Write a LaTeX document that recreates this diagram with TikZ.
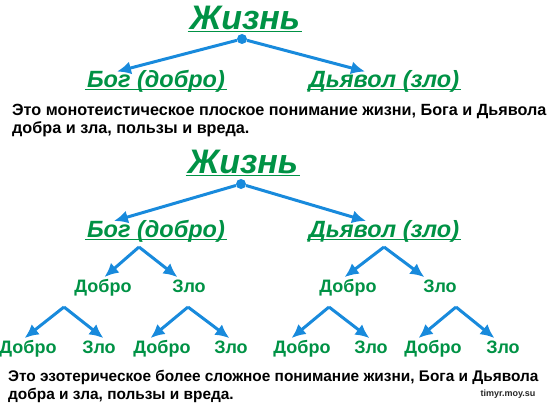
\documentclass[tikz,border=0pt]{standalone}
\usepackage{fontspec}
\setmainfont{Liberation Sans}
\usetikzlibrary{arrows.meta,calc}
\definecolor{lifegreen}{RGB}{0,146,69}
\definecolor{arrowblue}{RGB}{24,138,220}
\tikzstyle{title} = [font=\fontsize{34}{34}\selectfont\bfseries\itshape, text=lifegreen, text height=24.3pt, text depth=0pt, inner sep=2pt]
\tikzstyle{branch} = [font=\fontsize{23.5}{23.5}\selectfont\bfseries\itshape, text=lifegreen, text height=16.5pt, text depth=0pt, inner sep=2pt]
\tikzstyle{leaf} = [font=\fontsize{18}{18}\selectfont\bfseries, text=lifegreen, text height=12.9pt, text depth=0pt, inner sep=1pt]
\tikzstyle{note} = [font=\fontsize{16.2}{18}\selectfont\bfseries, align=left, anchor=west, inner sep=0pt]
\tikzstyle{uline} = [draw=lifegreen, line width=1pt]
\tikzstyle{dot} = [circle, fill=arrowblue, inner sep=0pt, minimum size=10pt]
\tikzstyle{arr} = [draw=arrowblue, line width=3pt, -{Latex[length=14pt,width=13pt]}, shorten >=2pt]

\begin{document}
\begin{tikzpicture}[x=1pt, y=-1pt]
    \useasboundingbox (0,0) rectangle (557,404);
    % first tree
    \node[title] (life1) at (245,17.5) {Жизнь};
    \draw[uline] (life1.south west) -- (life1.south east);% underline
    \node[dot] (dot1) at (242,39) {};
    \node[branch] (god1) at (156,79.5) {Бог (добро)};
    \draw[uline] (god1.south west) -- (god1.south east);
    \node[branch] (devil1) at (384,79.5) {Дьявол (зло)};
    \draw[uline] (devil1.south west) -- (devil1.south east);
    \draw[arr] (dot1) -- ($(god1.north)+(-41,3)$);
    \draw[arr] (dot1) -- ($(devil1.north)+(-17,3)$);
    \node[note] (flat) at (12,121) {Это монотеистическое плоское понимание жизни, Бога и Дьявола\\добра и зла, пользы и вреда.};
    % second tree
    \node[title] (life2) at (243,161) {Жизнь};
    \draw[uline] (life2.south west) -- (life2.south east);% underline
    \node[dot] (dot2) at (241,184) {};
    \node[branch] (god2) at (156,229) {Бог (добро)};
    \draw[uline] (god2.south west) -- (god2.south east);
    \node[branch] (devil2) at (384,229) {Дьявол (зло)};
    \draw[uline] (devil2.south west) -- (devil2.south east);
    \draw[arr] (dot2) -- ($(god2.north)+(-44,3)$);
    \draw[arr] (dot2) -- ($(devil2.north)+(-16,3)$);
    % third level
    \coordinate (p3a) at (139,247);
    \coordinate (p3b) at (384,247);
    \node[leaf] (good3a) at (103,286) {Добро};
    \node[leaf] (evil3a) at (189,286) {Зло};
    \node[leaf] (good3b) at (348,286) {Добро};
    \node[leaf] (evil3b) at (440,286) {Зло};
    \draw[arr] (p3a) -- (good3a.north);
    \draw[arr] (p3a) -- ($(evil3a.north)+(-10,0)$);
    \draw[arr] (p3b) -- ($(good3b.north)+(-5,0)$);
    \draw[arr] (p3b) -- ($(evil3b.north)+(-14,0)$);
    % fourth level
    \coordinate (p4a) at (64,307);
    \coordinate (p4b) at (188,307);
    \coordinate (p4c) at (329,307);
    \coordinate (p4d) at (456,307);
    \node[leaf] (good4a) at (28,347) {Добро};
    \node[leaf] (evil4a) at (99,347) {Зло};
    \node[leaf] (good4b) at (162,347) {Добро};
    \node[leaf] (evil4b) at (231,347) {Зло};
    \node[leaf] (good4c) at (302,347) {Добро};
    \node[leaf] (evil4c) at (371,347) {Зло};
    \node[leaf] (good4d) at (433,347) {Добро};
    \node[leaf] (evil4d) at (503,347) {Зло};
    \draw[arr] (p4a) -- ($(good4a.north)+(-5,0)$);
    \draw[arr] (p4a) -- ($(evil4a.north)+(6,0)$);
    \draw[arr] (p4b) -- ($(good4b.north)+(-13,0)$);
    \draw[arr] (p4b) -- (evil4b.north);
    \draw[arr] (p4c) -- ($(good4c.north)+(-12,0)$);
    \draw[arr] (p4c) -- (evil4c.north);
    \draw[arr] (p4d) -- ($(good4d.north)+(-16,0)$);
    \draw[arr] (p4d) -- ($(evil4d.north)+(-7,0)$);
    \node[note, font=\fontsize{15.4}{18}\selectfont\bfseries] (deep) at (8,386) {Это эзотерическое более сложное понимание жизни, Бога и Дьявола\\добра и зла, пользы и вреда.};
    \node[font=\fontsize{9}{9}\selectfont\bfseries, text=black!85, inner sep=0pt] (site) at (508,394) {timyr.moy.su};% watermark
\end{tikzpicture}
\end{document}
